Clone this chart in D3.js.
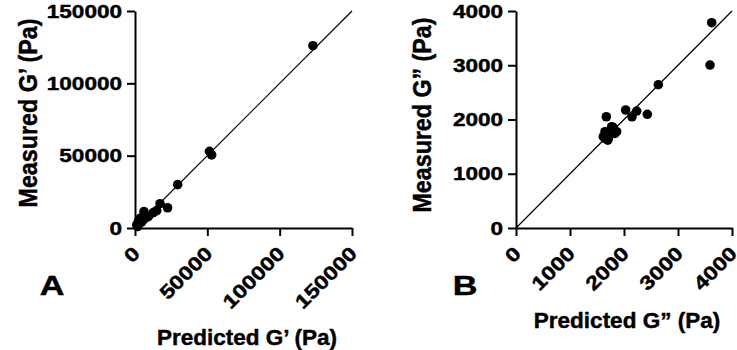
<!DOCTYPE html>
<html>
<head>
<meta charset="utf-8">
<script src="https://cdn.jsdelivr.net/npm/d3@7"></script>
<style>
  body { margin: 0; background: #fff; }
  text { font-family: "Liberation Sans", Arial, sans-serif; font-weight: bold; stroke: #000; stroke-width: 0.45px; }
</style>
</head>
<body>
<div id="chart"></div>
<script>
// Panel A: storage modulus G'
const predictedGp = [123000, 51500, 53000, 29500, 22500, 17300, 15000, 12700, 6200, 9200, 6900, 3500, 2300, 1200, 4500, 1800, 5500];
const measuredGp  = [126000, 53000, 50500, 30000, 14000, 16800, 12000, 10600, 11300, 7800, 6700, 6700, 4400, 2100, 4000, 1000, 5500];
const ticksGp = [0, 50000, 100000, 150000];

// Panel B: loss modulus G''
const predictedGpp = [3624, 3593, 2636, 2432, 2235, 2148, 2031, 1673, 1772, 1864, 1648, 1617, 1710, 1833, 1700, 1650, 1750, 1800, 1690];
const measuredGpp  = [3784, 3004, 2641, 2096, 2156, 2051, 2175, 2051, 1867, 1775, 1775, 1683, 1653, 1745, 1620, 1650, 1800, 1850, 1720];
const ticksGpp = [0, 1000, 2000, 3000, 4000];

const width = 737, height = 350;
const top_ = 11, bottom = 228;

const svg = d3.select("#chart")
  .append("svg")
  .attr("width", width)
  .attr("height", height);

// widen glyphs a little, the original lettering is stretched sideways
function stretch(sel, k) {
  sel.each(function () {
    const w = this.getComputedTextLength();
    d3.select(this).attr("textLength", w * k).attr("lengthAdjust", "spacingAndGlyphs");
  });
}

function drawPanel(p) {
  const x = d3.scaleLinear().domain([0, p.max]).range([p.left, p.right]);
  const y = d3.scaleLinear().domain([0, p.max]).range([bottom, top_]);
  const g = svg.append("g");

  // line of identity
  g.append("path")
    .datum([0, p.max])
    .attr("d", d3.line().x(d => x(d)).y(d => y(d)))
    .attr("fill", "none")
    .attr("stroke", "#000")
    .attr("stroke-width", 1.2);

  // x axis
  const xAxis = g.append("g")
    .attr("transform", "translate(0," + bottom + ")")
    .call(d3.axisBottom(x).tickValues(p.ticks).tickSize(8).tickSizeOuter(0).tickFormat(d3.format("d")))
    .attr("font-size", 19.5);
  xAxis.selectAll("path, line").attr("stroke", "#000").attr("stroke-width", 2);
  xAxis.selectAll("text")
    .attr("x", 0).attr("y", 0).attr("dy", "0.35em")
    .attr("text-anchor", "end")
    .attr("fill", "#000")
    .attr("transform", "translate(1,22) rotate(-45)")
    .call(stretch, 1.2);

  // y axis
  const yAxis = g.append("g")
    .attr("transform", "translate(" + p.left + ",0)")
    .call(d3.axisLeft(y).tickValues(p.ticks).tickSize(8).tickPadding(5).tickSizeOuter(0).tickFormat(d3.format("d")))
    .attr("font-size", 18.8);
  yAxis.selectAll("path, line").attr("stroke", "#000").attr("stroke-width", 2);
  yAxis.selectAll("text").attr("fill", "#000").call(stretch, 1.2);

  // points
  g.append("g")
    .selectAll("circle")
    .data(p.xs.map((v, i) => [v, p.ys[i]]))
    .enter()
    .append("circle")
      .attr("cx", d => x(d[0]))
      .attr("cy", d => y(d[1]))
      .attr("r", 4.8)
      .attr("fill", "#000");

  // axis titles
  g.append("text")
    .attr("x", p.xTitleX).attr("y", p.xTitleY)
    .attr("text-anchor", "middle")
    .attr("font-size", 22.5)
    .text(p.xTitle);

  g.append("text")
    .attr("transform", "translate(" + p.yTitleX + "," + p.yTitleY + ") rotate(-90)")
    .attr("text-anchor", "middle")
    .attr("font-size", 25)
    .attr("textLength", p.yTitleLen)
    .attr("lengthAdjust", "spacingAndGlyphs")
    .text(p.yTitle);

  // panel letter
  g.append("text")
    .attr("x", p.letterX).attr("y", 295)
    .attr("text-anchor", "middle")
    .attr("font-size", 28)
    .text(p.letter)
    .call(stretch, 1.22);
}

drawPanel({
  xs: predictedGp, ys: measuredGp, ticks: ticksGp, max: 150000,
  left: 135, right: 352,
  xTitle: "Predicted G\u2019 (Pa)", xTitleX: 247, xTitleY: 345,
  yTitle: "Measured G\u2019 (Pa)", yTitleX: 37, yTitleY: 113, yTitleLen: 189,
  letter: "A", letterX: 52
});

drawPanel({
  xs: predictedGpp, ys: measuredGpp, ticks: ticksGpp, max: 4000,
  left: 516, right: 732,
  xTitle: "Predicted G\u201D (Pa)", xTitleX: 627, xTitleY: 328,
  yTitle: "Measured G\u201D (Pa)", yTitleX: 431, yTitleY: 115, yTitleLen: 195,
  letter: "B", letterX: 465
});
</script>
</body>
</html>
